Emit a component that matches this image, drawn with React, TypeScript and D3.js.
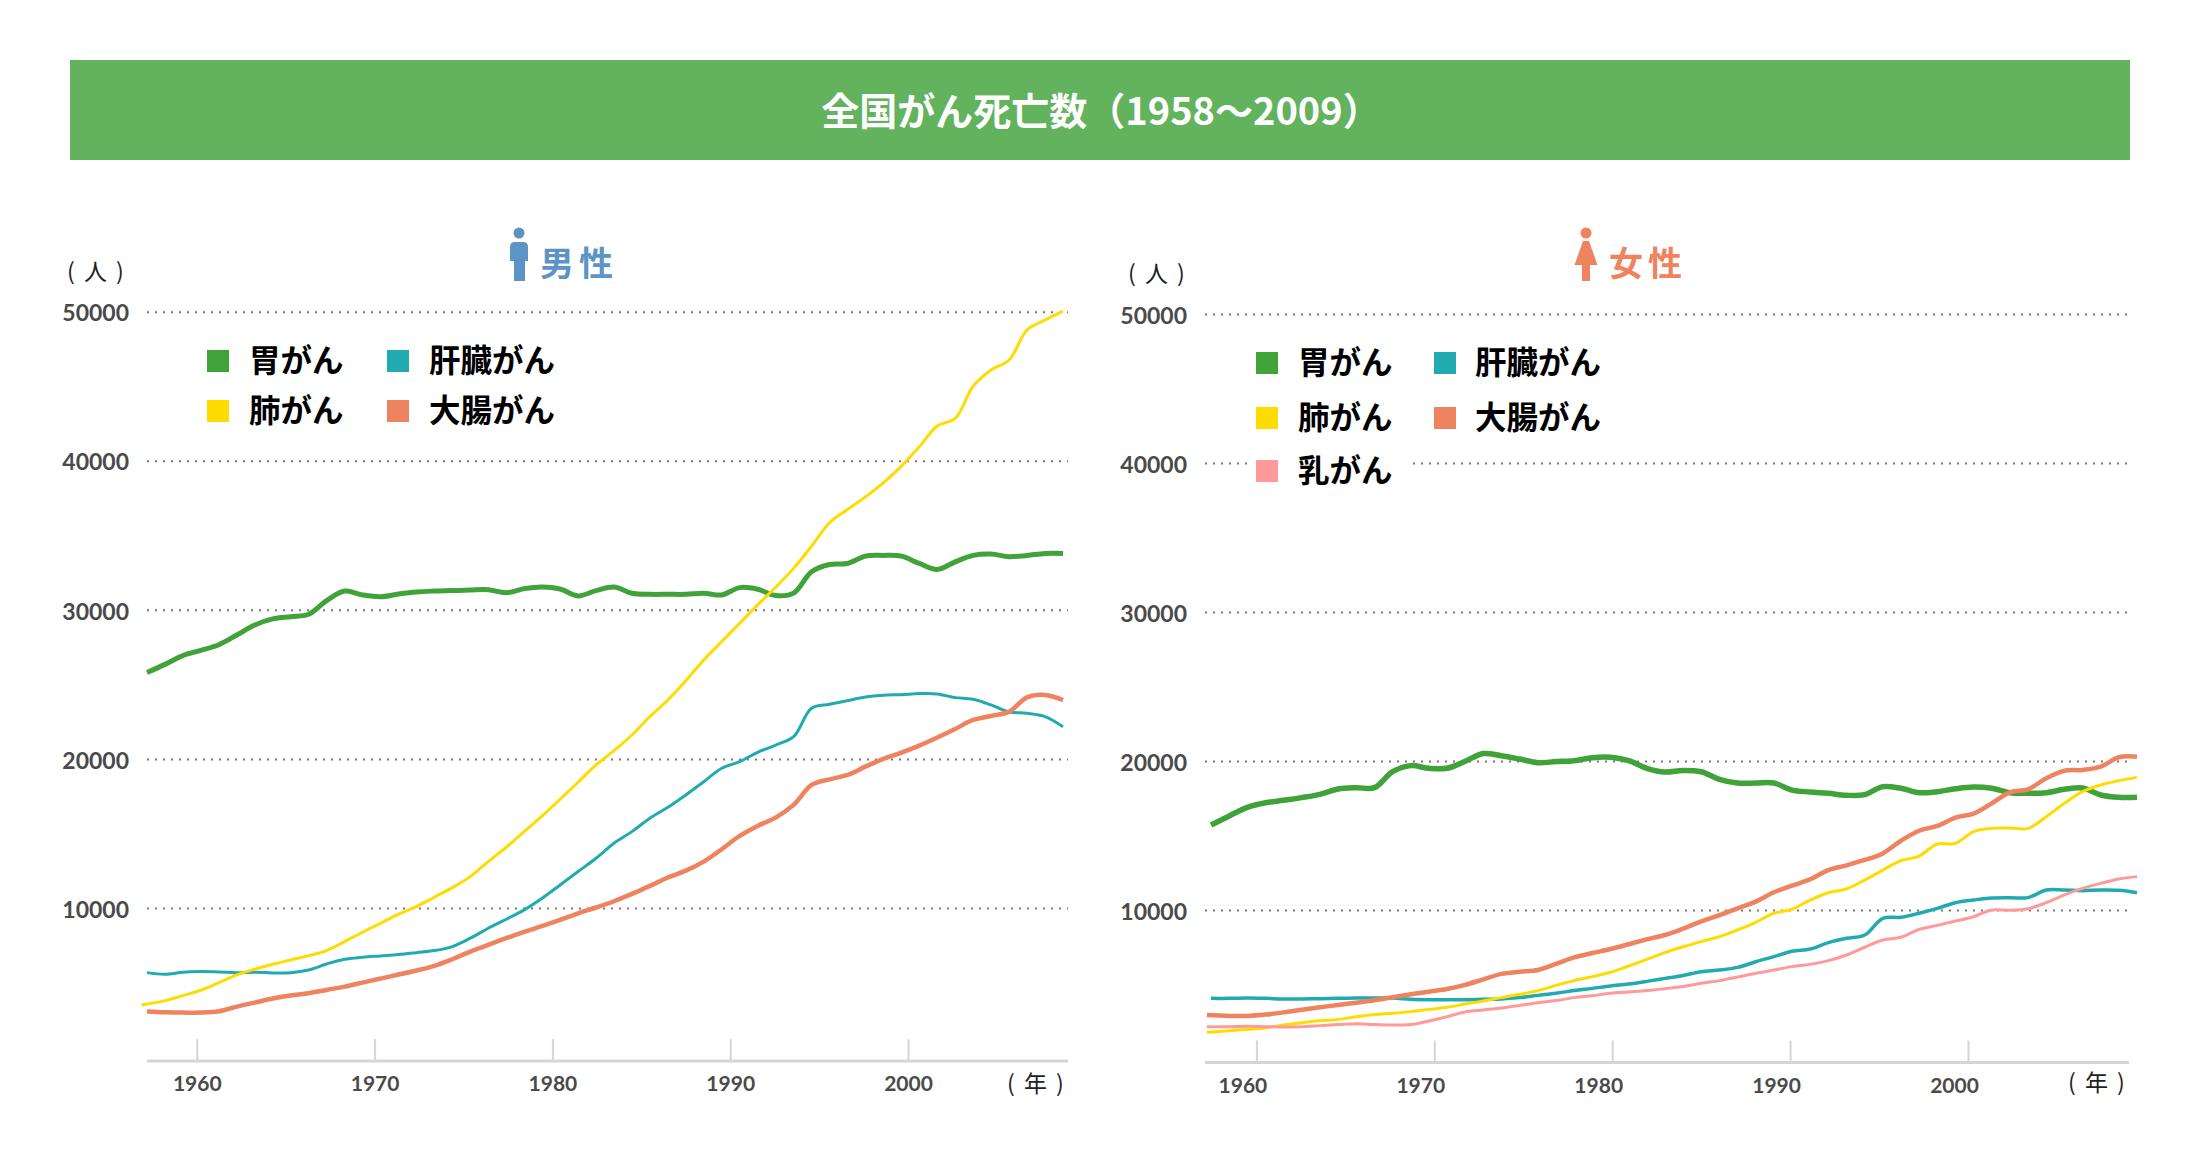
import * as d3 from 'd3';
import { useEffect, useRef } from 'react';

const title = '全国がん死亡数（1958〜2009）';
const years = d3.range(1958, 2010);
const yTicks = [10000, 20000, 30000, 40000, 50000];
const xTicks = [1960, 1970, 1980, 1990, 2000];

// male
const maleStomach = [25790, 26340, 26930, 27280, 27660, 28310, 28980, 29390, 29540, 29700, 30620, 31260, 31000, 30880, 31060, 31200, 31260, 31290, 31330, 31350, 31150, 31420, 31530, 31400, 30930, 31290, 31530, 31110, 31040, 31040, 31040, 31110, 31000, 31490, 31380, 30960, 31120, 32550, 33040, 33110, 33600, 33650, 33600, 33110, 32710, 33220, 33650, 33740, 33560, 33650, 33780, 33780];
const maleLung = [3490, 3780, 4120, 4480, 4990, 5510, 5890, 6220, 6510, 6800, 7140, 7740, 8370, 8970, 9580, 10090, 10720, 11360, 12100, 13110, 14070, 15120, 16170, 17290, 18430, 19590, 20550, 21600, 22840, 23950, 25250, 26640, 27870, 29100, 30330, 31510, 32780, 34270, 35840, 36730, 37580, 38520, 39640, 40940, 42330, 42840, 45010, 46090, 46760, 48770, 49440, 50040];
const maleLiver = [5660, 5550, 5690, 5730, 5710, 5660, 5690, 5640, 5660, 5840, 6240, 6560, 6690, 6780, 6870, 7000, 7140, 7410, 7970, 8640, 9240, 9870, 10650, 11540, 12440, 13330, 14340, 15120, 16020, 16750, 17580, 18470, 19370, 19820, 20440, 20930, 21490, 23390, 23660, 23910, 24150, 24270, 24310, 24380, 24360, 24110, 24000, 23620, 23150, 23060, 22840, 22160];
const maleColon = [3050, 3000, 2980, 2980, 3070, 3380, 3650, 3920, 4120, 4280, 4500, 4720, 4990, 5260, 5530, 5800, 6110, 6560, 7070, 7520, 7970, 8390, 8790, 9200, 9640, 10030, 10450, 10940, 11480, 12040, 12500, 13110, 13940, 14830, 15500, 16060, 16910, 18250, 18630, 18920, 19480, 20000, 20420, 20890, 21430, 22010, 22610, 22880, 23170, 24130, 24290, 23950];

// female
const femaleStomach = [15700, 16310, 16890, 17200, 17360, 17540, 17760, 18120, 18210, 18210, 19280, 19690, 19510, 19510, 19980, 20500, 20350, 20130, 19890, 19960, 20020, 20220, 20250, 20020, 19510, 19260, 19370, 19280, 18770, 18520, 18520, 18520, 18050, 17920, 17830, 17700, 17740, 18280, 18170, 17870, 17940, 18140, 18260, 18170, 17870, 17830, 17870, 18100, 18190, 17720, 17560, 17560];
const femaleLung = [1790, 1900, 1990, 2080, 2280, 2440, 2570, 2660, 2840, 2980, 3070, 3180, 3330, 3470, 3690, 3890, 4120, 4340, 4590, 4940, 5260, 5530, 5820, 6240, 6690, 7140, 7530, 7880, 8210, 8660, 9170, 9780, 10050, 10670, 11160, 11410, 12010, 12680, 13310, 13620, 14430, 14470, 15260, 15480, 15500, 15480, 16260, 17160, 17940, 18390, 18680, 18900];
const femaleLiver = [4070, 4070, 4090, 4070, 4030, 4030, 4050, 4070, 4090, 4090, 4090, 4010, 3980, 3980, 3980, 4010, 4030, 4120, 4270, 4410, 4590, 4740, 4900, 5030, 5210, 5410, 5610, 5860, 5970, 6150, 6530, 6870, 7230, 7380, 7810, 8100, 8320, 9440, 9510, 9780, 10110, 10490, 10670, 10810, 10830, 10830, 11340, 11340, 11300, 11340, 11320, 11160];
const femaleColon = [2950, 2890, 2890, 2980, 3130, 3310, 3470, 3630, 3780, 3940, 4140, 4340, 4520, 4700, 4970, 5350, 5710, 5860, 5970, 6380, 6820, 7110, 7380, 7700, 8030, 8320, 8750, 9240, 9660, 10110, 10560, 11190, 11630, 12060, 12680, 13000, 13360, 13800, 14650, 15320, 15640, 16200, 16470, 17160, 17900, 18100, 18840, 19350, 19400, 19620, 20250, 20290];
const femaleBreast = [2170, 2170, 2190, 2170, 2150, 2170, 2240, 2310, 2370, 2310, 2280, 2310, 2550, 2840, 3160, 3290, 3420, 3600, 3780, 3920, 4120, 4250, 4410, 4500, 4590, 4720, 4860, 5080, 5260, 5500, 5750, 5970, 6200, 6350, 6600, 6980, 7500, 7990, 8170, 8700, 8970, 9260, 9550, 10000, 9980, 10090, 10490, 11010, 11450, 11790, 12080, 12240];

const seriesStyle: Record<string, { label: string; color: string }> = {
  stomach: { label: '胃がん', color: '#40a339' },
  liver: { label: '肝臓がん', color: '#21aab0' },
  lung: { label: '肺がん', color: '#ffdc00' },
  colon: { label: '大腸がん', color: '#ef8360' },
  breast: { label: '乳がん', color: '#ff9a9a' },
};

const JP = '"Noto Sans CJK JP", "Noto Sans", sans-serif';
const NUM = 'Lato, "Noto Sans", sans-serif';

const panels = [
  {
    side: 'male',
    name: '男性',
    nameColor: '#5b94c5',
    nameX: 540,
    xData: [147, 1063],
    xTick: [196.8, 908],
    xAxis: [147, 1068],
    yRange: [1057, 311.7],
    base: 1061,
    labelDx: 0,
    labelPad: 15,
    unitX: 67,
    yearX: 1007,
    yearY: 1092,
    series: [
      { key: 'stomach', values: maleStomach, width: 5 },
      { key: 'liver', values: maleLiver, width: 3 },
      { key: 'lung', values: maleLung, width: 3, lead: 0.3 },
      { key: 'colon', values: maleColon, width: 4.5 },
    ],
    legend: [
      { key: 'stomach', col: 0, y: 361 },
      { key: 'liver', col: 1, y: 361 },
      { key: 'lung', col: 0, y: 411 },
      { key: 'colon', col: 1, y: 411 },
    ],
    legendSwatch: [207, 387],
    legendText: [249, 429],
  },
  {
    side: 'female',
    name: '女性',
    nameColor: '#ef8360',
    nameX: 1609,
    xData: [1211, 2137],
    xTick: [1256.4, 1968],
    xAxis: [1205, 2129],
    yRange: [1059, 314],
    base: 1062.5,
    labelDx: -14,
    labelPad: 16,
    unitX: 1128,
    yearX: 2068,
    yearY: 1091,
    series: [
      { key: 'stomach', values: femaleStomach, width: 5.5 },
      { key: 'liver', values: femaleLiver, width: 3.5 },
      { key: 'lung', values: femaleLung, width: 3, lead: 0.22 },
      { key: 'breast', values: femaleBreast, width: 3, lead: 0.22 },
      { key: 'colon', values: femaleColon, width: 4.5, lead: 0.22 },
    ],
    legend: [
      { key: 'stomach', col: 0, y: 363 },
      { key: 'liver', col: 1, y: 363 },
      { key: 'lung', col: 0, y: 418 },
      { key: 'colon', col: 1, y: 418 },
      { key: 'breast', col: 0, y: 471 },
    ],
    legendSwatch: [1256, 1434],
    legendText: [1298, 1475],
  },
];

export default function App() {
  const ref = useRef<SVGSVGElement | null>(null);

  useEffect(() => {
    if (!ref.current) return;
    const svg = d3.select(ref.current);
    svg.selectAll('*').remove();

    /* ================= BANNER ================= */

    svg.append('rect')
      .attr('x', 70).attr('y', 60)
      .attr('width', 2060).attr('height', 100)
      .attr('fill', '#62b25e');

    svg.append('text')
      .attr('x', 1101).attr('y', 125)
      .attr('text-anchor', 'middle')
      .attr('font-family', JP)
      .attr('font-weight', 700)
      .attr('font-size', 38)
      .attr('fill', '#fff')
      .text(title);

    /* ================= PANELS ================= */

    panels.forEach((p) => {
      const g = svg.append('g');

      const x = d3.scaleLinear().domain([1958, 2009]).range(p.xData);
      const xt = d3.scaleLinear().domain([1960, 2000]).range(p.xTick);
      const y = d3.scaleLinear().domain([0, 50000]).range(p.yRange);

      // gridlines + value labels
      const yAxis = g.append('g')
        .attr('transform', `translate(${p.xAxis[0]},0)`)
        .call(
          d3.axisLeft(y)
            .tickValues(yTicks)
            .tickSize(-(p.xAxis[1] - p.xAxis[0]))
            .tickPadding(18)
            .tickFormat((d) => String(d))
        );
      yAxis.select('.domain').remove();
      yAxis.selectAll('line')
        .attr('stroke', '#777')
        .attr('stroke-width', 2)
        .attr('stroke-dasharray', '2 6');
      yAxis.selectAll('text')
        .attr('font-family', NUM)
        .attr('font-size', 23)
        .attr('font-weight', 700)
        .attr('fill', '#4a4a4a')
        .attr('dy', '0.4em');

      // year axis, ticks point up from the baseline
      const xAxis = g.append('g')
        .attr('transform', `translate(0,${p.base})`)
        .call(
          d3.axisBottom(xt)
            .tickValues(xTicks)
            .tickSize(-22)
            .tickPadding(p.labelPad)
            .tickFormat((d) => String(d))
        );
      xAxis.select('.domain').remove();
      xAxis.selectAll('line').attr('stroke', '#d5d5d5').attr('stroke-width', 2);
      xAxis.selectAll('text')
        .attr('font-family', NUM)
        .attr('font-size', 21)
        .attr('font-weight', 700)
        .attr('fill', '#4a4a4a')
        .attr('dx', p.labelDx);

      g.append('line')
        .attr('x1', p.xAxis[0]).attr('x2', p.xAxis[1])
        .attr('y1', p.base).attr('y2', p.base)
        .attr('stroke', '#d5d5d5')
        .attr('stroke-width', 3);

      // unit labels
      g.append('text')
        .attr('x', p.unitX).attr('y', p.yRange[1] - 32)
        .attr('font-family', JP)
        .attr('font-size', 23)
        .attr('letter-spacing', 2)
        .attr('fill', '#222')
        .text('( 人 )');
      g.append('text')
        .attr('x', p.yearX).attr('y', p.yearY)
        .attr('font-family', JP)
        .attr('font-size', 23)
        .attr('letter-spacing', 2)
        .attr('fill', '#222')
        .text('( 年 )');

      // lines
      p.series.forEach((s: any) => {
        const line = d3.line<number>()
          .x((_, i) => x(i === 0 && s.lead ? years[i] - s.lead : years[i]))
          .y((d) => y(d))
          .curve(d3.curveCatmullRom.alpha(0.5));
        g.append('path')
          .attr('d', line(s.values))
          .attr('fill', 'none')
          .attr('stroke', seriesStyle[s.key].color)
          .attr('stroke-width', s.width);
      });

      // legend
      p.legend.forEach((l) => {
        const st = seriesStyle[l.key];
        if (l.y > 450) {
          g.append('rect')
            .attr('x', p.legendSwatch[0] - 7).attr('y', l.y - 24)
            .attr('width', 158).attr('height', 48)
            .attr('fill', '#fff');
        }
        g.append('rect')
          .attr('x', p.legendSwatch[l.col]).attr('y', l.y - 11)
          .attr('width', 22).attr('height', 22)
          .attr('fill', st.color);
        g.append('text')
          .attr('x', p.legendText[l.col]).attr('y', l.y + 11)
          .attr('font-family', JP)
          .attr('font-weight', 700)
          .attr('font-size', 31.5)
          .attr('fill', '#000')
          .text(st.label);
      });

      // gender heading + icon
      const icon = g.append('g').attr('fill', p.nameColor);
      if (p.side === 'male') {
        icon.append('circle').attr('cx', 519).attr('cy', 233).attr('r', 5.5);
        icon.append('path').attr('d', 'M510 261V247Q510 242 515 242H523Q528 242 528 247V261H525V281H514V261Z');
      } else {
        icon.append('circle').attr('cx', 1586).attr('cy', 233).attr('r', 5.5);
        icon.append('path').attr('d', 'M1583 241H1589L1597.5 265H1590V281H1582V265H1574.5Z');
      }
      g.append('text')
        .attr('x', p.nameX).attr('y', 276)
        .attr('font-family', JP)
        .attr('font-weight', 700)
        .attr('font-size', 34)
        .attr('letter-spacing', 5)
        .attr('fill', p.nameColor)
        .text(p.name);
    });
  }, []);

  return (
    <svg
      ref={ref}
      width={2200}
      height={1176}
      viewBox="0 0 2200 1176"
      style={{ position: 'absolute', left: 0, top: 0, background: '#fff' }}
    />
  );
}
